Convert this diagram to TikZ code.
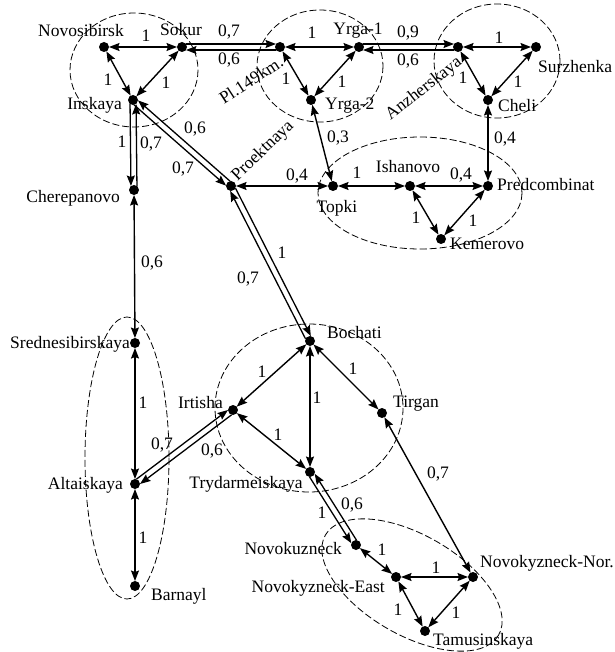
\documentclass[tikz,border=0pt]{standalone}
\usepackage{fontspec}
\setmainfont{Liberation Serif}
\usetikzlibrary{arrows.meta,calc}
\tikzset{
  stn/.style={circle,fill=black,inner sep=0pt,minimum size=10pt,outer sep=0pt},
  lbl/.style={inner sep=0pt,font=\fontsize{17.5}{20}\selectfont,anchor=base},
  con/.style={line width=1.4pt,{Stealth[length=10.5pt,width=8pt,inset=1.5pt]}-{Stealth[length=10.5pt,width=8pt,inset=1.5pt]}},
  one/.style={line width=1.3pt,-{Stealth[length=10.5pt,width=8pt,inset=1.5pt]},shorten <=4pt,shorten >=4pt},
  zone/.style={line width=0.8pt,dash pattern=on 7pt off 3pt}
}
\newcommand{\dualline}[4]{%
  \draw[one] ($(#1)!3pt!#3:(#2)$) -- ($(#2)!3pt!#4:(#1)$);
  \draw[one] ($(#2)!3pt!#3:(#1)$) -- ($(#1)!3pt!#4:(#2)$);
}
\begin{document}
\begin{tikzpicture}[x=1pt,y=-1pt]
\useasboundingbox[fill=white] (0,0) rectangle (614,652);
% zones
\draw[zone] (134,70) ellipse [x radius=64, y radius=57];
\draw[zone] (320,66) ellipse [x radius=63, y radius=56];
\draw[zone] (497,61) ellipse [x radius=63, y radius=57];
\draw[zone] (420,193) ellipse [x radius=102, y radius=56];
\draw[zone] (127,458) ellipse [x radius=42, y radius=141];
\draw[zone] (309,408) ellipse [x radius=94, y radius=84];
\draw[zone, rotate around={-30:(412,585)}] (412,585) ellipse [x radius=100, y radius=50];
% stations
\node[stn] (nov) at (104,47) {};
\node[stn] (sok) at (182,47) {};
\node[stn] (ins) at (133,100) {};
\node[stn] (cher) at (134,190) {};
\node[stn] (pl) at (280,47) {};
\node[stn] (y1) at (359,47) {};
\node[stn] (y2) at (311,100) {};
\node[stn] (anz) at (458,47) {};
\node[stn] (sur) at (536,47) {};
\node[stn] (che) at (488,100) {};
\node[stn] (pred) at (488,186) {};
\node[stn] (top) at (333,186) {};
\node[stn] (ish) at (410,186) {};
\node[stn] (kem) at (441,239) {};
\node[stn] (pro) at (231,186) {};
\node[stn] (sred) at (135,343) {};
\node[stn] (irt) at (233,410) {};
\node[stn] (boch) at (310,341) {};
\node[stn] (tir) at (382,413) {};
\node[stn] (tryd) at (310,472) {};
\node[stn] (alt) at (135,484) {};
\node[stn] (bar) at (135,586) {};
\node[stn] (nk) at (356,545) {};
\node[stn] (nke) at (396,577) {};
\node[stn] (nkn) at (473,577) {};
\node[stn] (tam) at (425,631) {};
% single two-way connectors
\draw[con] (nov) -- (sok);
\draw[con] (nov) -- (ins);
\draw[con] (sok) -- (ins);
\draw[con] (pl) -- (y1);
\draw[con] (pl) -- (y2);
\draw[con] (y1) -- (y2);
\draw[con] (anz) -- (sur);
\draw[con] (anz) -- (che);
\draw[con] (sur) -- (che);
\draw[con] (che) -- (pred);
\draw[con] (y2) -- (top);
\draw[con] (pro) -- (top);
\draw[con] (top) -- (ish);
\draw[con] (ish) -- (pred);
\draw[con] (ish) -- (kem);
\draw[con] (pred) -- (kem);
\draw[con] (cher) -- (sred);
\draw[con] (sred) -- (alt);
\draw[con] (alt) -- (bar);
\draw[con] (boch) -- (irt);
\draw[con] (boch) -- (tir);
\draw[con] (boch) -- (tryd);
\draw[con] (irt) -- (tryd);
\draw[con] (tir) -- (nkn);
\draw[con] (nk) -- (nke);
\draw[con] (nke) -- (nkn);
\draw[con] (nke) -- (tam);
\draw[con] (nkn) -- (tam);
% paired one-way lines
\dualline{sok}{pl}{90}{-90}
\dualline{y1}{anz}{90}{-90}
\dualline{ins}{cher}{-90}{90}
\dualline{ins}{pro}{-90}{90}
\dualline{pro}{boch}{90}{-90}
\dualline{irt}{alt}{90}{-90}
\dualline{tryd}{nk}{-90}{90}
% station names
\node[lbl,anchor=base east] (tnov) at (124,37) {Novosibirsk};
\node[lbl] (tsok) at (181,36) {Sokur};
\node[lbl,anchor=base east] (tins) at (122,110) {Inskaya};
\node[lbl,anchor=base east] (tcher) at (120,203) {Cherepanovo};
\node[lbl,anchor=base east] (tsred) at (130,348) {Srednesibirskaya};
\node[lbl,anchor=base east] (talt) at (123,489) {Altaiskaya};
\node[lbl,anchor=base west] (tbar) at (151,600) {Barnayl};
\node[lbl,anchor=base east] (tirt) at (223,408) {Irtisha};
\node[lbl,anchor=base west] (tboch) at (327,338) {Bochati};
\node[lbl,anchor=base west] (ttir) at (393,407) {Tirgan};
\node[lbl] (ttryd) at (246,488) {Trydarmeiskaya};
\node[lbl] (ty1) at (358,35) {Yrga-1};
\node[lbl,anchor=base west] (ty2) at (325,110) {Yrga-2};
\node[lbl,anchor=base west] (tsur) at (538,73) {Surzhenka};
\node[lbl,anchor=base west] (tche) at (498,112) {Cheli};
\node[lbl,anchor=base west] (tpred) at (497,190) {Predcombinat};
\node[lbl] (tish) at (408,173) {Ishanovo};
\node[lbl] (ttop) at (337,212) {Topki};
\node[lbl,anchor=base west] (tkem) at (450,249) {Kemerovo};
\node[lbl,anchor=base east] (tnk) at (342,554) {Novokuzneck};
\node[lbl,anchor=base east] (tnke) at (385,592) {Novokyzneck-East};
\node[lbl,anchor=base west] (tnkn) at (480,567) {Novokyzneck-Nor.};
\node[lbl,anchor=base west] (ttam) at (433,645) {Tamusinskaya};
\node[lbl,anchor=center,rotate=33] (tpl) at (251,80) {Pl.149km.};
\node[lbl,anchor=center,rotate=44] (tpro) at (263,151) {Proektnaya};
\node[lbl,anchor=center,rotate=38] (tanz) at (424,89) {Anzherskaya};
% weights
\node[lbl] (w1) at (146,41.5) {1};
\node[lbl] (w2) at (108,85.5) {1};
\node[lbl] (w3) at (166,88.5) {1};
\node[lbl] (w4) at (122,147.5) {1};
\node[lbl] (w5) at (151,148.5) {0,7};
\node[lbl] (w6) at (195,133.5) {0,6};
\node[lbl] (w7) at (183,173.5) {0,7};
\node[lbl] (w8) at (229,36.5) {0,7};
\node[lbl] (w9) at (229,64.5) {0,6};
\node[lbl] (w10) at (312,38.5) {1};
\node[lbl] (w11) at (286,84.5) {1};
\node[lbl] (w12) at (342,87.5) {1};
\node[lbl] (w13) at (338,142.5) {0,3};
\node[lbl] (w14) at (297,180.5) {0,4};
\node[lbl] (w15) at (357,178.5) {1};
\node[lbl] (w16) at (461,179.5) {0,4};
\node[lbl] (w17) at (416,223.5) {1};
\node[lbl] (w18) at (473,226.5) {1};
\node[lbl] (w19) at (408,37.5) {0,9};
\node[lbl] (w20) at (408,65.5) {0,6};
\node[lbl] (w21) at (499,43.5) {1};
\node[lbl] (w22) at (463,83.5) {1};
\node[lbl] (w23) at (518,87.5) {1};
\node[lbl] (w24) at (505,143.5) {0,4};
\node[lbl] (w25) at (152,267.5) {0,6};
\node[lbl] (w26) at (143,408.5) {1};
\node[lbl] (w27) at (282,258.5) {1};
\node[lbl] (w28) at (248,283.5) {0,7};
\node[lbl] (w29) at (262,377.5) {1};
\node[lbl] (w30) at (353,374.5) {1};
\node[lbl] (w31) at (317,403.5) {1};
\node[lbl] (w32) at (278,440.5) {1};
\node[lbl] (w33) at (162,449.5) {0,7};
\node[lbl] (w34) at (212,455.5) {0,6};
\node[lbl] (w35) at (322,518.5) {1};
\node[lbl] (w36) at (352,509.5) {0,6};
\node[lbl] (w37) at (438,478.5) {0,7};
\node[lbl] (w38) at (143,543.5) {1};
\node[lbl] (w39) at (382,555.5) {1};
\node[lbl] (w40) at (436,573.5) {1};
\node[lbl] (w41) at (398,615.5) {1};
\node[lbl] (w42) at (456,618.5) {1};
\end{tikzpicture}
\end{document}
